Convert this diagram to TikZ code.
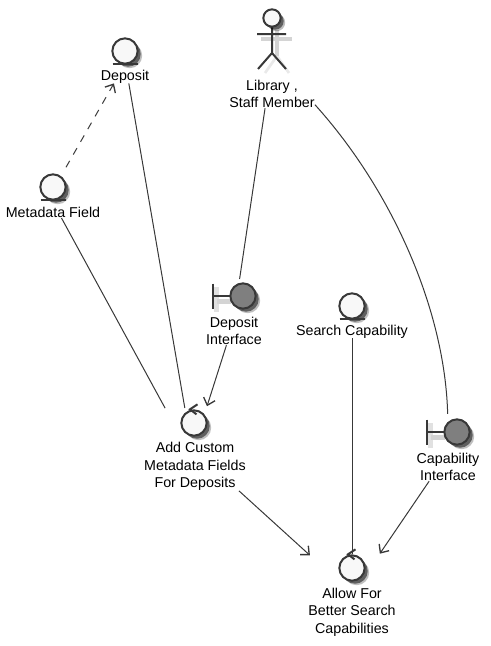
\documentclass[tikz,border=0pt]{standalone}
\usepackage{fontspec}
\setmainfont{Liberation Sans}
\usetikzlibrary{arrows.meta,shadows}

\definecolor{umlline}{HTML}{383838}
\definecolor{umlfill}{HTML}{F8F8F8}
\definecolor{umlgray}{HTML}{7F7F7F}
\definecolor{umlshade}{HTML}{D4D4D4}

\tikzset{
  softshadow/.style={drop shadow={shadow xshift=3.4pt,shadow yshift=-3.4pt,opacity=.25,fill=black},
                     drop shadow={shadow xshift=2.3pt,shadow yshift=-2.3pt,opacity=.5,fill=black}},
  icon/.style={circle,draw=umlline,line width=1.5pt,minimum size=19pt,inner sep=0pt,softshadow},
  entityicon/.style={icon,fill=umlfill},
  controlicon/.style={icon,fill=umlfill},
  boundaryicon/.style={icon,fill=umlgray},
  txt/.style={align=center,inner sep=0pt,text=black,font=\fontsize{10.7}{13.1}\selectfont},
  conn/.style={draw=umlline,line width=.75pt},
  arr/.style={conn,-{Straight Barb[length=5pt,width=9pt,line width=1pt]}},
  entitybar/.pic={\draw[umlline,line width=1.5pt] (-12.5,0) -- (12.5,0);},
  controlmark/.pic={\draw[umlline,line width=1.5pt] (3.5,-5) -- (-4,0) -- (2.5,5);},
  boundarybar/.pic={
    \fill[umlshade] (-13,2.5) rectangle (1,7.5);
    \fill[umlshade,opacity=.7] (-16,-9) rectangle (-11,16);
    \draw[umlline,line width=1.5pt] (-17,-12.5) -- (-17,12.5) (-17,0) -- (0,0);},
  actorbody/.pic={
    \draw[umlshade,line width=3.5pt] (-11,13) -- (20,13) (5,4) -- (5,30);
    \draw[umlshade,opacity=.5,line width=2pt] (5,30) -- (-7,47) (5,30) -- (17,47);
    \draw[umlline,line width=1.5pt] (0,0) -- (0,27) (-15,8) -- (14,8)
      (0,27) -- (-14,43) (0,27) -- (14,43);},
}

\begin{document}
\begin{tikzpicture}[x=.75pt,y=-.75pt]
  \useasboundingbox (0,0) rectangle (490,646);

  % actor
  \pic at (272,26) {actorbody};
  \node[icon,fill=umlfill,minimum size=13pt] (staff) at (272,18) {};
  \node[txt] (staffLabel) at (272,94) {Library ,\\Staff Member};

  % entities
  \node[entityicon] (deposit) at (125,51) {};
  \pic at (125,64) {entitybar};
  \node[txt] (depositLabel) at (125,76.5) {Deposit};

  \node[entityicon] (metadata) at (53,187) {};
  \pic at (53,200) {entitybar};
  \node[txt] (metadataLabel) at (53,212.5) {Metadata Field};

  \node[entityicon] (search) at (352,306) {};
  \pic at (352,319) {entitybar};
  \node[txt] (searchLabel) at (352,331.5) {Search Capability};

  % boundaries
  \pic at (230,296) {boundarybar};
  \node[boundaryicon] (depInt) at (243,296) {};
  \node[txt] (depIntLabel) at (234,331) {Deposit\\Interface};

  \pic at (444,432) {boundarybar};
  \node[boundaryicon] (capInt) at (457,432) {};
  \node[txt] (capIntLabel) at (448,467) {Capability\\Interface};

  % controls
  \node[controlicon] (addCustom) at (194,423) {};
  \pic at (addCustom.north) {controlmark};
  \node[txt] (addCustomLabel) at (195,466.5) {Add Custom\\Metadata Fields\\For Deposits};

  \node[controlicon] (allowFor) at (352,568) {};
  \pic at (allowFor.north) {controlmark};
  \node[txt] (allowForLabel) at (352,612) {Allow For\\Better Search\\Capabilities};

  % connectors
  \path (metadata.54) edge[arr,dash pattern=on 5.5pt off 5.5pt,shorten <=7.5pt] (depositLabel.-148)
        (depositLabel.-61) edge[conn,shorten >=26pt] (addCustomLabel.100)
        (metadataLabel.-33) edge[conn,shorten >=29pt] (addCustomLabel.115)
        (staffLabel.-116) edge[conn,shorten >=3pt] (depInt.107)
        (depIntLabel.-118) edge[arr,shorten >=6.3pt] (addCustom.40)
        (searchLabel.south) edge[conn] (allowFor.north)
        (addCustomLabel.-29) edge[arr,shorten >=36pt] (allowForLabel.105)
        (capIntLabel.-143) edge[arr,shorten >=30.8pt] (allowForLabel.79)
        ;
  \draw[conn,shorten >=6pt] (staffLabel.-14) .. controls (392,190) and (445,310) .. (capInt.132);
\end{tikzpicture}
\end{document}
